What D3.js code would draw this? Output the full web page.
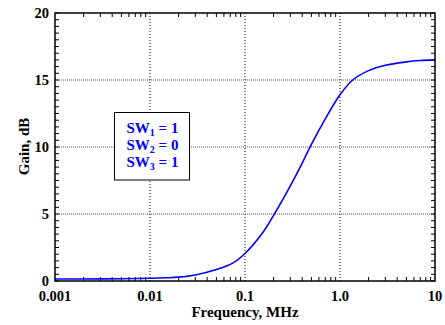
<!DOCTYPE html>
<html>
<head>
<meta charset="utf-8">
<script src="https://cdn.jsdelivr.net/npm/d3@7"></script>
<style>
  body { margin: 0; background: #fff; }
  text { font-family: "Liberation Serif", "Times New Roman", serif; font-weight: bold; }
</style>
</head>
<body>
<div class="gain-chart"></div>
<script>
// frequency response
let freq = [0.001, 0.002, 0.005, 0.01, 0.015, 0.02, 0.03, 0.05, 0.075, 0.1, 0.15, 0.2, 0.3, 0.4, 0.5, 0.7, 1.0, 1.36, 2, 3, 5, 7, 10];
let gain = [0.15, 0.15, 0.17, 0.2, 0.24, 0.29, 0.45, 0.85, 1.35, 2.05, 3.5, 4.9, 7.1, 8.8, 10.2, 12.1, 13.9, 15.0, 15.7, 16.1, 16.35, 16.45, 16.5];

let xTicks = [0.001, 0.01, 0.1, 1, 10];
let xTickLabels = ["0.001", "0.01", "0.1", "1.0", "10"];
let yTicks = [0, 5, 10, 15, 20];
let switches = [["1", "1"], ["2", "0"], ["3", "1"]];

let width = 445,
    height = 325,
    margin = { top: 13, right: 10, bottom: 44, left: 55 };

let x = d3.scaleLog()
    .domain([0.001, 10])
    .range([margin.left, width - margin.right]);

let y = d3.scaleLinear()
    .domain([0, 20])
    .range([height - margin.bottom, margin.top]);

let svg = d3.select("div.gain-chart").append("svg")
    .attr("width", width)
    .attr("height", height);

// minor ticks: 2..9 in each decade, every 0.5 dB
let xMinor = [];
for (let d = 0.001; d < 10; d *= 10) {
  for (let k = 2; k <= 9; k++) xMinor.push(d * k);
}
let yMinor = d3.range(0, 20.01, 0.5);

// grid
svg.append("g").selectAll("line")
    .data(xTicks.slice(1, -1))
  .enter().append("line")
    .attr("x1", d => x(d)).attr("x2", d => x(d))
    .attr("y1", y(0)).attr("y2", y(20))
    .attr("stroke", "#000")
    .attr("stroke-width", 1)
    .attr("stroke-dasharray", "1,2");

svg.append("g").selectAll("line")
    .data(yTicks.slice(1, -1))
  .enter().append("line")
    .attr("x1", x(0.001)).attr("x2", x(10))
    .attr("y1", d => y(d)).attr("y2", d => y(d))
    .attr("stroke", "#555")
    .attr("stroke-width", 1)
    .attr("stroke-dasharray", "1,1");

// ticks inside the frame
let tk = svg.append("g").attr("stroke", "#000").attr("stroke-width", 1);
xMinor.forEach(function(d) {
  tk.append("line").attr("x1", x(d)).attr("x2", x(d)).attr("y1", y(0)).attr("y2", y(0) - 4);
  tk.append("line").attr("x1", x(d)).attr("x2", x(d)).attr("y1", y(20)).attr("y2", y(20) + 4);
});
yMinor.forEach(function(d) {
  tk.append("line").attr("x1", x(0.001)).attr("x2", x(0.001) + 4).attr("y1", y(d)).attr("y2", y(d));
  tk.append("line").attr("x1", x(10)).attr("x2", x(10) - 4).attr("y1", y(d)).attr("y2", y(d));
});

// curve
let line = d3.line()
    .x((d, i) => x(freq[i]))
    .y(d => y(d))
    .curve(d3.curveCatmullRom.alpha(0.5));

svg.append("path")
    .datum(gain)
    .attr("d", line)
    .attr("fill", "none")
    .attr("stroke", "#0000ff")
    .attr("stroke-width", 1.6);

// frame
svg.append("rect")
    .attr("x", x(0.001)).attr("y", y(20))
    .attr("width", x(10) - x(0.001))
    .attr("height", y(0) - y(20))
    .attr("fill", "none")
    .attr("stroke", "#000")
    .attr("stroke-width", 1.5);

// tick labels
svg.append("g").selectAll("text")
    .data(xTicks)
  .enter().append("text")
    .attr("x", d => x(d))
    .attr("y", y(0) + 20)
    .attr("text-anchor", "middle")
    .attr("font-size", 14.5)
    .text((d, i) => xTickLabels[i]);

svg.append("g").selectAll("text")
    .data(yTicks)
  .enter().append("text")
    .attr("x", x(0.001) - 6)
    .attr("y", d => y(d))
    .attr("dy", "0.35em")
    .attr("text-anchor", "end")
    .attr("font-size", 14.5)
    .text(d => d);

// axis titles
svg.append("text")
    .attr("x", (x(0.001) + x(10)) / 2)
    .attr("y", 317)
    .attr("text-anchor", "middle")
    .attr("font-size", 15)
    .text("Frequency, MHz");

svg.append("text")
    .attr("transform", "translate(" + 29 + "," + 146.5 + ") rotate(-90)")
    .attr("text-anchor", "middle")
    .attr("font-size", 15)
    .text("Gain, dB");

// switch box
svg.append("rect")
    .attr("x", 114.5).attr("y", 112.5)
    .attr("width", 75).attr("height", 67.5)
    .attr("fill", "#fff")
    .attr("stroke", "#000")
    .attr("stroke-width", 1);

let sw = svg.append("g").selectAll("text")
    .data(switches)
  .enter().append("text")
    .attr("x", 126.5)
    .attr("y", (d, i) => 132.5 + i * 17.3)
    .attr("font-size", 15)
    .attr("fill", "#0000ff");

sw.append("tspan").text("SW");
sw.append("tspan").attr("font-size", 10).attr("dy", 3).text(d => d[0]);
sw.append("tspan").attr("dy", -3).text(d => " = " + d[1]);
</script>
</body>
</html>
